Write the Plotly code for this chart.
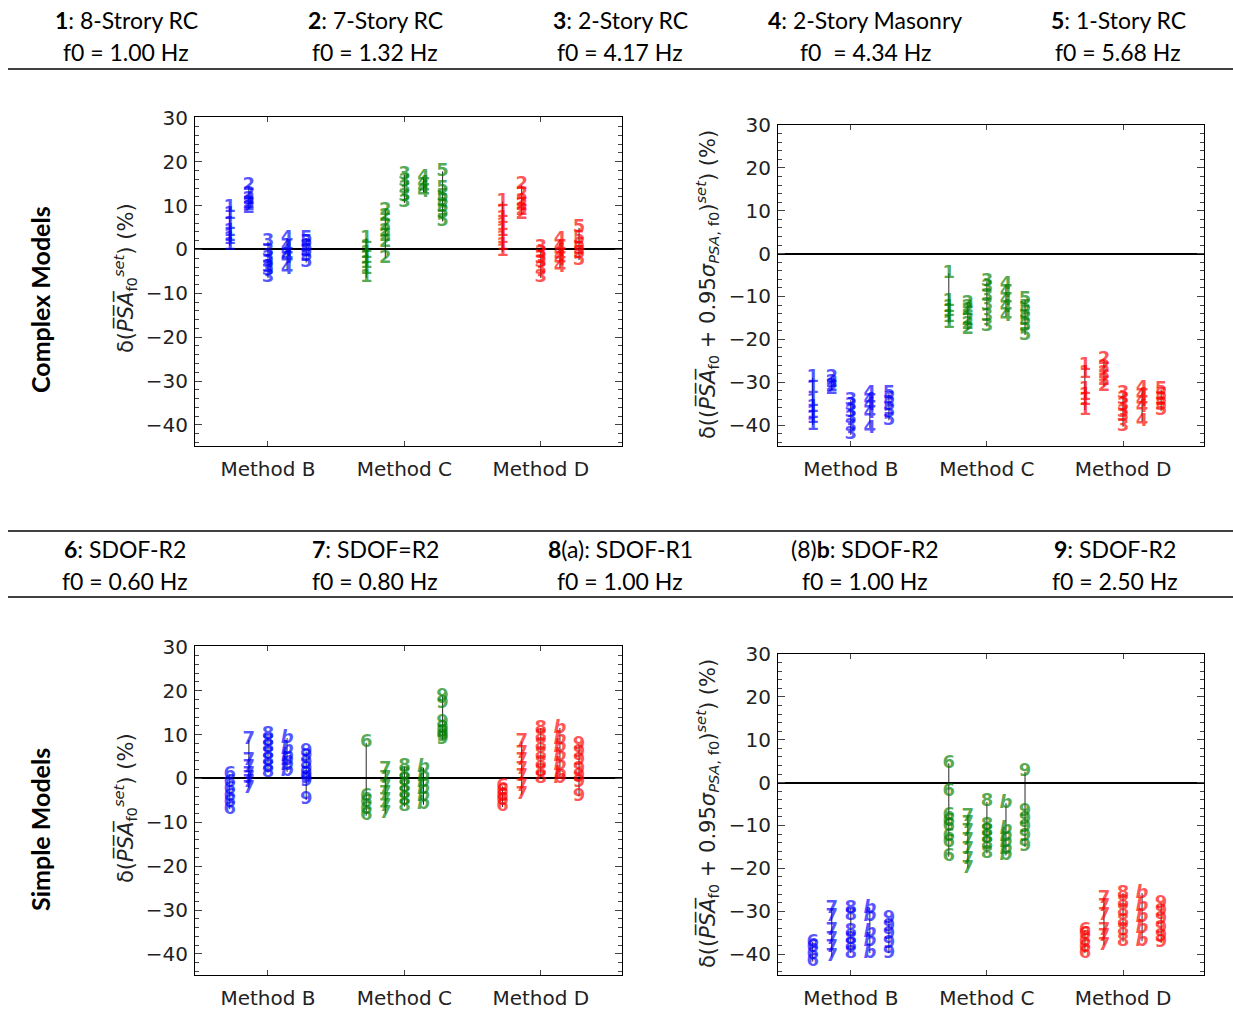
import plotly.graph_objects as go

W, H = 1233, 1012


def fx(t):
    return t / W


def fy(t):
    return 1 - t / H


METHODS = ["Method B", "Method C", "Method D"]
COLORS = ["rgba(0,0,255,0.68)", "rgba(0,128,0,0.68)", "rgba(255,0,0,0.68)"]
TOP_LABELS = ["1", "2", "3", "4", "5"]
BOT_LABELS = ["6", "7", "8", "<i>b</i>", "9"]
OFFSETS = [-0.28, -0.14, 0.0, 0.14, 0.28]

TOP_HEAD = [("1", ": 8-Strory RC", "f0 = 1.00 Hz"), ("2", ": 7-Story RC", "f0 = 1.32 Hz"),
            ("3", ": 2-Story RC", "f0 = 4.17 Hz"), ("4", ": 2-Story Masonry", "f0  = 4.34 Hz"),
            ("5", ": 1-Story RC", "f0 = 5.68 Hz")]
BOT_HEAD = [("<b>6</b>: SDOF-R2", "f0 = 0.60 Hz"), ("<b>7</b>: SDOF=R2", "f0 = 0.80 Hz"),
            ("<b>8</b>(a): SDOF-R1", "f0 = 1.00 Hz"), ("(8)<b>b</b>: SDOF-R2", "f0 = 1.00 Hz"),
            ("<b>9</b>: SDOF-R2", "f0 = 2.50 Hz")]

# Panel 1: complex models, delta(PSA mean)
P1_B = [[9.6, 7.9, 5.6, 4.1, 2.9, 2.2, 0.8], [14.5, 12.5, 11.5, 10.5, 10, 9.3],
        [1.8, -0.5, -2, -3, -4, -4.8, -6.5], [2.6, 0.5, -0.5, -1.5, -2, -4.6], [2.6, 1.5, 0.5, -0.5, -1.5, -3]]
P1_C = [[2.6, 0.5, -1, -2, -3.2, -4.5, -6.5], [9, 7.5, 5.5, 4, 3, 1.5, -2],
        [17, 15.5, 14, 12, 10.6], [16.5, 15, 14, 13], [17.8, 14, 12, 11, 9.5, 8.3, 6.4]]
P1_D = [[10.9, 8.5, 7, 5.5, 4, 2.5, 1, -0.5], [14.7, 12.5, 11, 10, 9, 8],
        [0.4, -1, -2, -3, -4.5, -6.5], [2.2, 0.5, -0.5, -1.5, -2.5, -4.2], [4.9, 2.5, 1, 0, -1, -2.4]]
# Panel 2: complex models, delta(mean + 0.95 sigma)
P2_B = [[-29, -31.4, -34.5, -36, -37.2, -38.5, -40], [-28.8, -30, -31, -31.8],
        [-34.2, -35.5, -37, -38.5, -40.4, -42.3], [-32.6, -34.2, -35.5, -37.2, -40.7], [-32.6, -34, -35.5, -37, -38.9]]
P2_C = [[-4.6, -11.2, -12.5, -13.5, -15, -16.2], [-11.6, -12.5, -13.2, -15.5, -16.5, -17.8],
        [-6.5, -8, -10, -12, -14.7, -17], [-7.3, -9, -11, -12.5, -14.7], [-10.8, -12.5, -14, -15.5, -17, -19]]
P2_D = [[-26, -28, -31.8, -33, -34.2, -36.5], [-24.8, -26.5, -28, -29.5, -31],
        [-32.6, -34, -35.5, -37, -38, -40.4], [-31.4, -33, -34.5, -36, -39.2], [-31.8, -33, -34.2, -35.5, -36.7]]
# Panel 3: simple models, delta(PSA mean)
P3_B = [[1, -1, -2.5, -4, -5.5, -7], [8.8, 4.2, 2.5, 1, 0, -1, -2.2], [10, 8.5, 7, 5.5, 4, 2.5, 1.3],
        [9.2, 6.5, 5, 4, 3, 1.5], [6.1, 5, 3.5, 2, 1, 0, -0.7, -4.9]]
P3_C = [[8.1, -4, -5.5, -7, -8.5], [2, 0, -2, -3.5, -5, -6.5, -8], [2.7, 1, -0.5, -2, -3.5, -5, -6.4],
        [2.4, 0.5, -1, -2.5, -4, -6], [18.7, 17.2, 12.7, 11.5, 10.5, 9.5, 8.8]]
P3_D = [[-1.8, -3, -4, -5, -6.5], [8.4, 5.8, 4, 2, 0.5, -1.8, -3.7], [11.5, 9.5, 7.5, 5.5, 3.5, 1.5, 0],
        [11.5, 9, 7, 5, 3, 1, 0], [7.7, 6, 4, 2, 0.5, -1, -4.1]]
# Panel 4: simple models, delta(mean + 0.95 sigma)
P4_B = [[-37.2, -38.5, -40, -41.8], [-29.3, -31.3, -34.5, -36.5, -38.5, -40.6], [-29.3, -31, -34.8, -36.5, -38, -39.8],
        [-29.3, -31.3, -35, -37, -39.8], [-31.8, -33.5, -35.5, -37.5, -39.8]]
P4_C = [[4.5, -2.1, -7.6, -9, -10.3, -12.6, -14, -17.3], [-8, -9.5, -11.5, -13.5, -15.7, -18, -20],
        [-4.5, -10, -11.5, -13, -14.5, -16.5], [-4.8, -11, -12.5, -14, -15.5, -17], [2.5, -6.8, -8.5, -10.5, -12.5, -15]]
P4_D = [[-34.4, -35.5, -37, -38.5, -39.8], [-27, -29, -31, -34.4, -36, -37.9], [-25.8, -28, -30, -32.5, -34.5, -37.1],
        [-25.8, -29, -31.5, -34, -37], [-28.2, -30, -32, -34, -36, -37.4]]

PANELS = [
    dict(data=[P1_B, P1_C, P1_D], labels=TOP_LABELS, box=(195, 622, 117, 446), yr=[-44.8, 30.2]),
    dict(data=[P2_B, P2_C, P2_D], labels=TOP_LABELS, box=(778, 1204, 125, 446), yr=[-44.9, 30.0]),
    dict(data=[P3_B, P3_C, P3_D], labels=BOT_LABELS, box=(195, 622, 646, 975), yr=[-44.8, 30.2]),
    dict(data=[P4_B, P4_C, P4_D], labels=BOT_LABELS, box=(778, 1204, 654, 975), yr=[-44.9, 30.0]),
]

fig = go.Figure()
TICKFONT = dict(family="DejaVu Sans", size=20, color="#222")
for pi, p in enumerate(PANELS):
    n = "" if pi == 0 else str(pi + 1)
    xa, ya = "x" + n, "y" + n
    for mi, mdata in enumerate(p["data"]):
        for bi, vals in enumerate(mdata):
            xpos = mi + 1 + OFFSETS[bi]
            fig.add_trace(go.Scatter(x=[xpos, xpos], y=[min(vals), max(vals)], mode="lines",
                                     line=dict(color="rgba(0,0,0,0.85)", width=1), xaxis=xa, yaxis=ya,
                                     showlegend=False, hoverinfo="skip"))
            fig.add_trace(go.Scatter(x=[xpos] * len(vals), y=vals, mode="text",
                                     text=["<b>" + p["labels"][bi] + "</b>"] * len(vals),
                                     textposition="middle center",
                                     textfont=dict(family="DejaVu Sans", size=18, color=COLORS[mi]),
                                     xaxis=xa, yaxis=ya, showlegend=False))
    x0, x1, y0, y1 = p["box"]
    fig.layout["xaxis" + n] = dict(domain=[fx(x0), fx(x1)], range=[0.465, 3.595], anchor=ya,
                                   tickvals=[1, 2, 3], ticktext=METHODS, ticks="inside", ticklen=5,
                                   ticklabelstandoff=5,
                                   showline=True, linecolor="black", linewidth=1, mirror="allticks",
                                   showgrid=False, zeroline=False, tickfont=TICKFONT, fixedrange=True)
    fig.layout["yaxis" + n] = dict(domain=[fy(y1), fy(y0)], range=p["yr"], anchor=xa,
                                   tickvals=[-40, -30, -20, -10, 0, 10, 20, 30], ticks="inside", ticklen=7,
                                   ticklabelstandoff=2,
                                   minor=dict(dtick=2, tick0=0, ticks="inside", ticklen=4, showgrid=False),
                                   showline=True, linecolor="black", linewidth=1, mirror="allticks",
                                   showgrid=False, zeroline=True, zerolinecolor="black", zerolinewidth=2,
                                   tickfont=TICKFONT, fixedrange=True)

ann = []
shapes = []
HFONT = dict(family="Lato", size=23, color="black")


def add_text(x, y, text, font, angle=0):
    ann.append(dict(x=fx(x), y=fy(y), text=text, showarrow=False, xref="paper", yref="paper",
                    xanchor="center", yanchor="middle", textangle=angle, font=font))


HX = [126, 375, 620, 865, 1118]
for i, (num, rest, f0) in enumerate(TOP_HEAD):
    add_text(HX[i], 20, "<b>" + num + "</b>" + rest, HFONT)
    add_text(HX[i], 52, f0, HFONT)
HX2 = [125, 375, 620, 865, 1115]
for i, (t1, f0) in enumerate(BOT_HEAD):
    add_text(HX2[i], 549, t1, HFONT)
    add_text(HX2[i], 581, f0, HFONT)
for yl in [69, 531, 597]:
    shapes.append(dict(type="line", xref="paper", yref="paper", x0=fx(8), x1=1, y0=fy(yl), y1=fy(yl),
                       line=dict(color="black", width=1.5)))

add_text(40, 300, "<b>Complex Models</b>", dict(family="Lato", size=25, color="black"), -90)
add_text(40, 830, "<b>Simple Models</b>", dict(family="Lato", size=25, color="black"), -90)

T1 = "δ(<i>P\u0305S\u0305A\u0305</i><sub>f0</sub><sup><i>set</i></sup>) (%)"
T2 = "δ((<i>P\u0305S\u0305A\u0305</i><sub>f0</sub> + 0.95<i>σ</i><sub><i>PSA</i>, f0</sub>)<sup><i>set</i></sup>) (%)"
YTFONT = dict(family="DejaVu Sans", size=21, color="#222")
for (tx, ty, t) in [(125, 278, T1), (707, 285, T2), (125, 808, T1), (707, 814, T2)]:
    add_text(tx, ty, t, YTFONT, -90)

fig.update_layout(width=W, height=H, margin=dict(l=0, r=0, t=0, b=0, autoexpand=False),
                  paper_bgcolor="white", plot_bgcolor="white", annotations=ann, shapes=shapes,
                  showlegend=False)
fig.write_html("out.html", config={"displayModeBar": False},
               post_script="document.body.style.margin='0';document.body.style.overflow='hidden';")
